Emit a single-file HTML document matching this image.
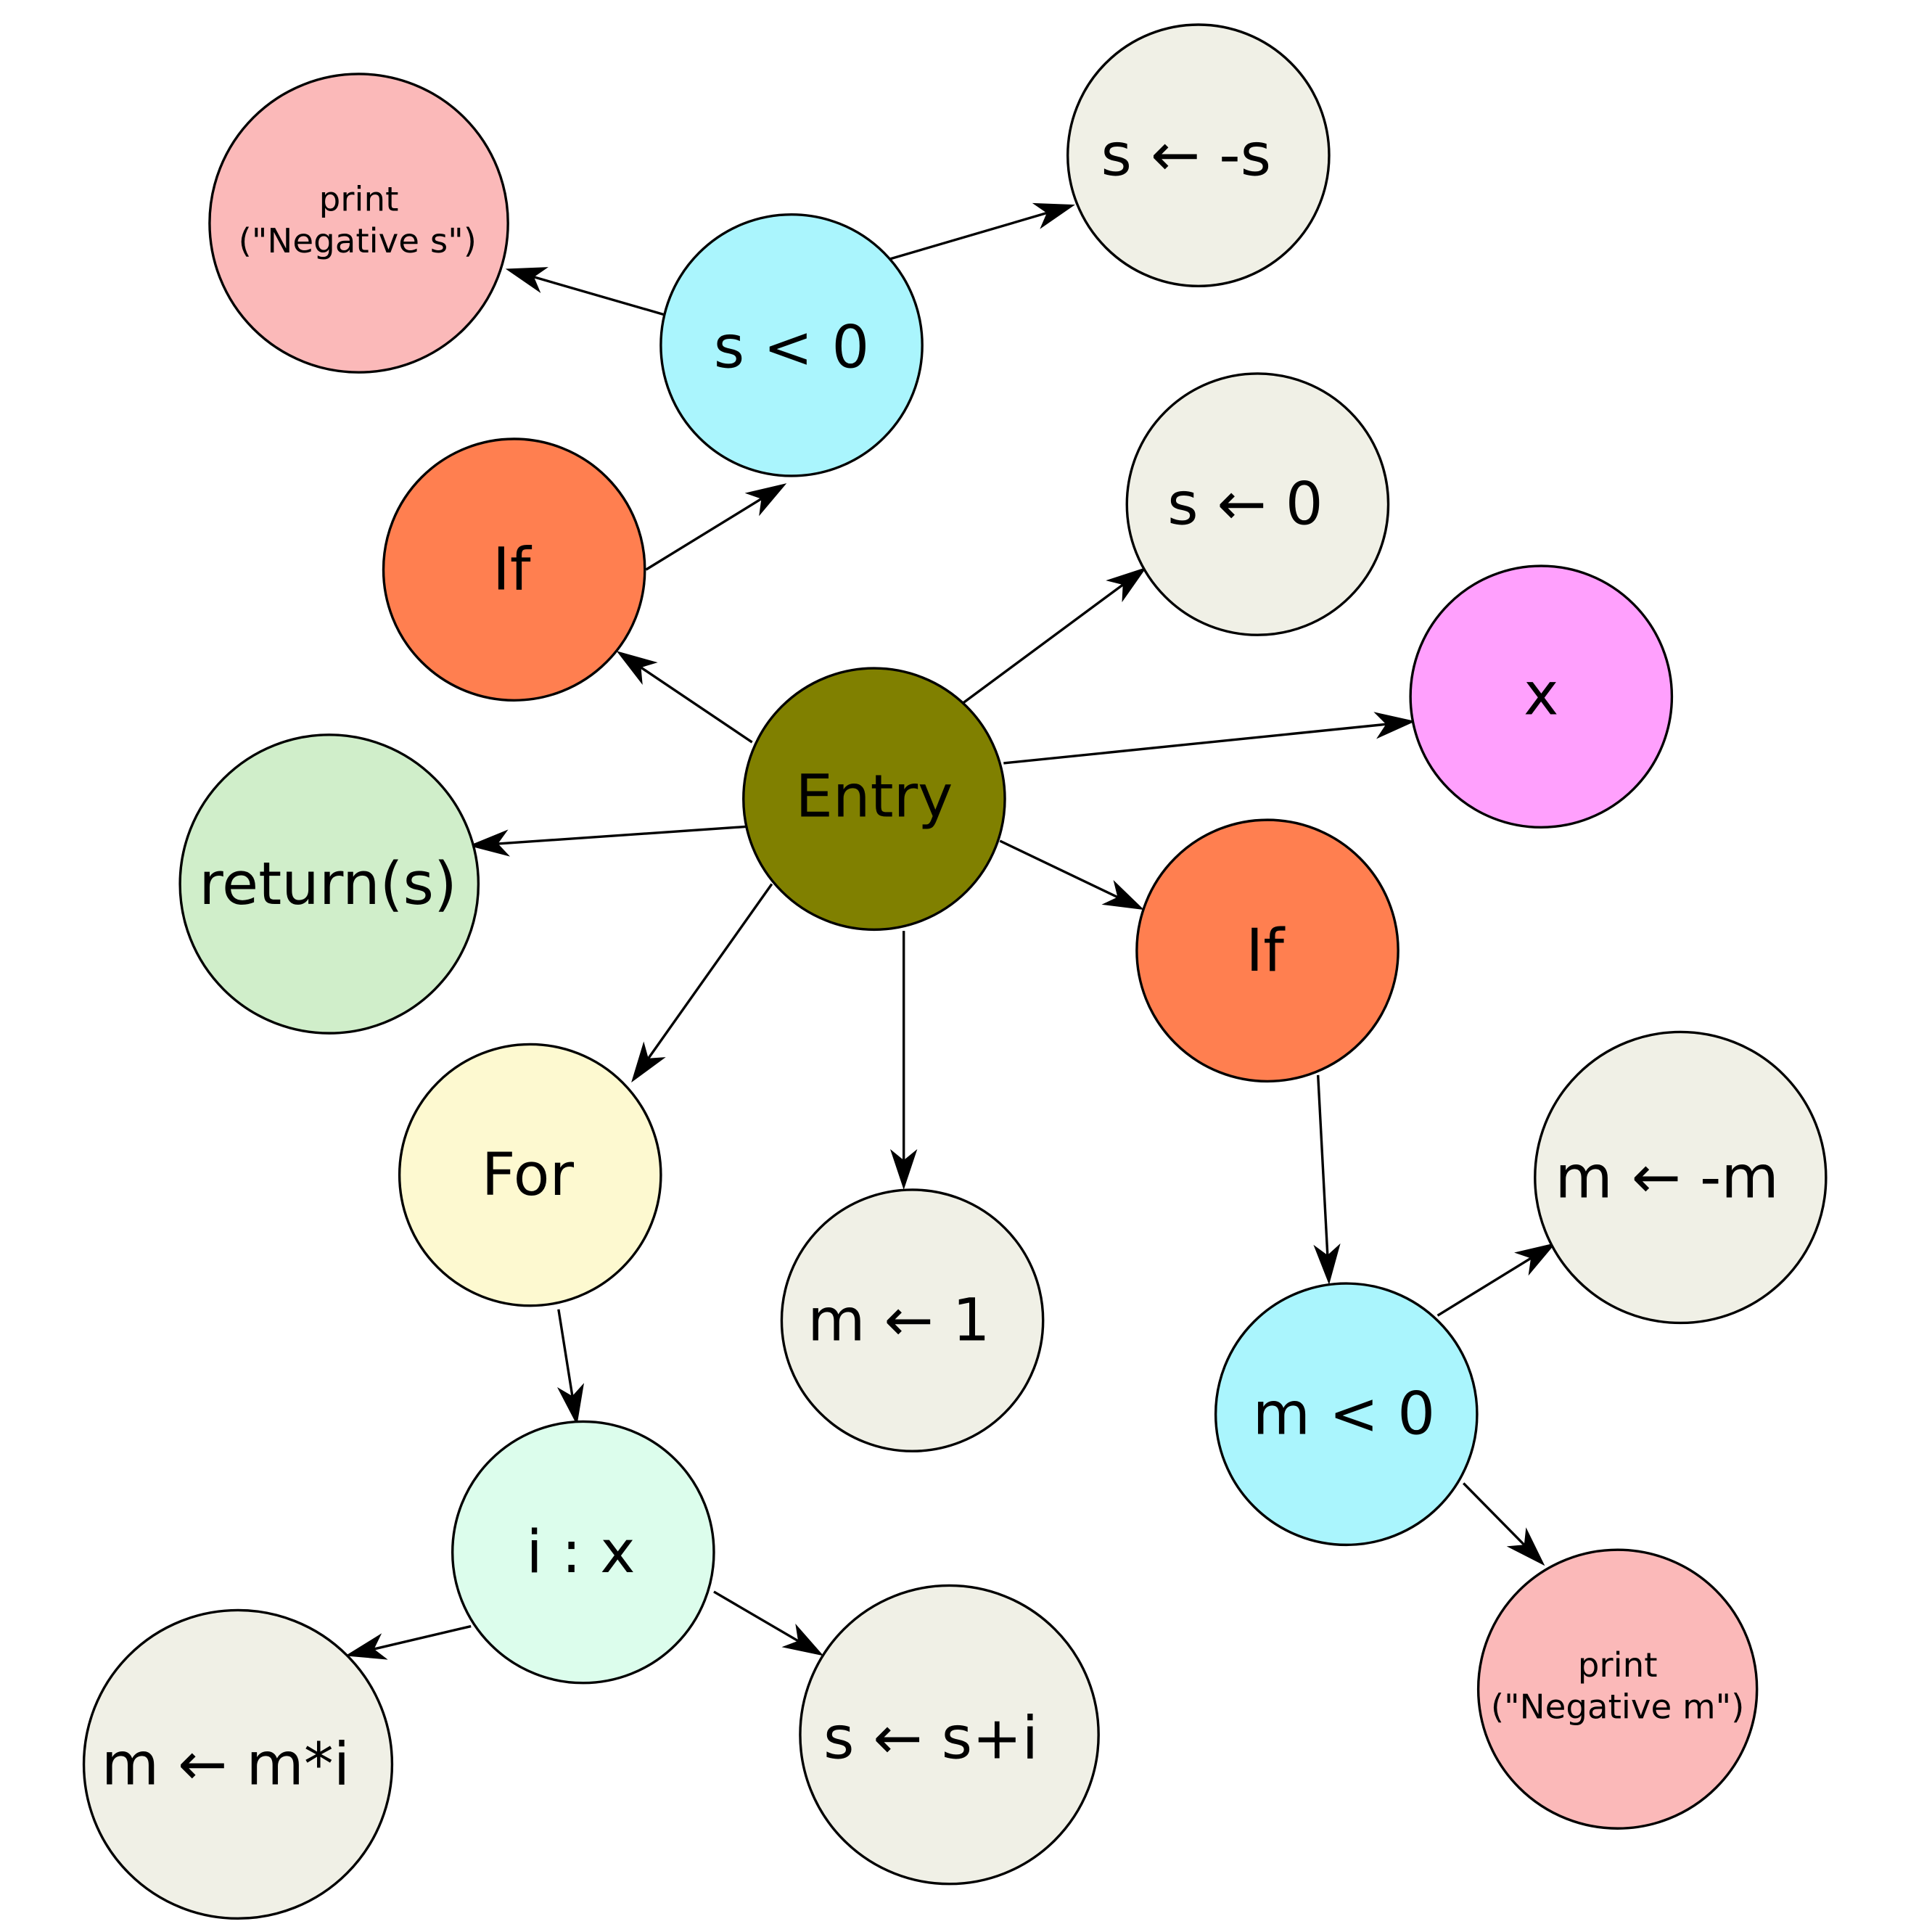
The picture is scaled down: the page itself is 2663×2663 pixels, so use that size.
<!DOCTYPE html>
<html><head><meta charset="utf-8"><style>
html,body{margin:0;padding:0;background:#fff;}
svg{display:block;}
text{font-family:"DejaVu Sans","Liberation Sans",sans-serif;fill:#000;}
</style></head><body>
<svg id="s" width="2663" height="2663" viewBox="0 0 1567 1567" xmlns="http://www.w3.org/2000/svg">
<g id="edges" stroke="#000" stroke-width="2" fill="none"></g>
<g id="heads" fill="#000"></g>
<g stroke="#000" stroke-width="2">
<circle cx="291" cy="181" r="121" fill="#fbb9b9"/>
<circle cx="642" cy="280" r="106" fill="#aaf5fd"/>
<circle cx="972" cy="126" r="106" fill="#f0f0e6"/>
<circle cx="417" cy="462" r="106" fill="#ff7f50"/>
<circle cx="1020" cy="409" r="106" fill="#f0f0e6"/>
<circle cx="1250" cy="565" r="106" fill="#ffa0fd"/>
<circle cx="709" cy="648" r="106" fill="#808000"/>
<circle cx="267" cy="717" r="121" fill="#d0eeca"/>
<circle cx="1028" cy="771" r="106" fill="#ff7f50"/>
<circle cx="430" cy="953" r="106" fill="#fdf9d0"/>
<circle cx="740" cy="1071" r="106" fill="#f0f0e6"/>
<circle cx="1363" cy="955" r="118" fill="#f0f0e6"/>
<circle cx="1092" cy="1147" r="106" fill="#aaf5fd"/>
<circle cx="473" cy="1259" r="106" fill="#dcfdec"/>
<circle cx="193" cy="1431" r="125" fill="#f0f0e6"/>
<circle cx="770" cy="1407" r="121" fill="#f0f0e6"/>
<circle cx="1312" cy="1370" r="113" fill="#fbb9b9"/>
</g>
<g font-size="48" text-anchor="middle" dominant-baseline="central">
<text x="962" y="126">s ← -s</text>
<text x="642" y="282">s &lt; 0</text>
<text x="415" y="462">If</text>
<text x="1010" y="409">s ← 0</text>
<text x="1250" y="563">x</text>
<text x="709" y="646">Entry</text>
<text x="266" y="717">return(s)</text>
<text x="1026" y="771">If</text>
<text x="428" y="953">For</text>
<text x="729" y="1071">m ← 1</text>
<text x="1352" y="955">m ← -m</text>
<text x="1090" y="1147">m &lt; 0</text>
<text x="471" y="1259">i : x</text>
<text x="183" y="1431">m ← m*i</text>
<text x="755" y="1410">s ← s+i</text>
</g>
<g font-size="27.5" text-anchor="middle" dominant-baseline="central">
<text x="291" y="162">print</text>
<text x="290" y="196">("Negative s")</text>
<text x="1312" y="1351">print</text>
<text x="1312" y="1385">("Negative m")</text>
</g>
</svg>
<script>
var E=[[538,255,410,218],[722,210,872,166],[524,462,638,392],[610,602,500,528],[780,571,930,460],[814,619,1148,585],[612,670,380,686],[811,682,928,738],[626,717,512,878],[733,755,733,965],[1069,872,1078,1042],[1166,1067,1262,1008],[1187,1203,1253,1270],[453,1062,468,1156],[382,1319,280,1343],[579,1291,668,1343]];
var ns="http://www.w3.org/2000/svg",ge=document.getElementById('edges'),gh=document.getElementById('heads');
E.forEach(function(e){
 var dx=e[2]-e[0],dy=e[3]-e[1],L=Math.hypot(dx,dy),ux=dx/L,uy=dy/L,px=-uy,py=ux;
 var l=document.createElementNS(ns,'line');
 l.setAttribute('x1',e[0]);l.setAttribute('y1',e[1]);
 l.setAttribute('x2',e[2]-ux*20);l.setAttribute('y2',e[3]-uy*20);ge.appendChild(l);
 var tx=e[2],ty=e[3],bl=33,nl=24,hw=11;
 var pts=[[tx,ty],[tx-ux*bl+px*hw,ty-uy*bl+py*hw],[tx-ux*nl,ty-uy*nl],[tx-ux*bl-px*hw,ty-uy*bl-py*hw]];
 var p=document.createElementNS(ns,'polygon');
 p.setAttribute('points',pts.map(function(q){return q[0].toFixed(1)+','+q[1].toFixed(1)}).join(' '));
 gh.appendChild(p);
});
</script>
</body></html>
